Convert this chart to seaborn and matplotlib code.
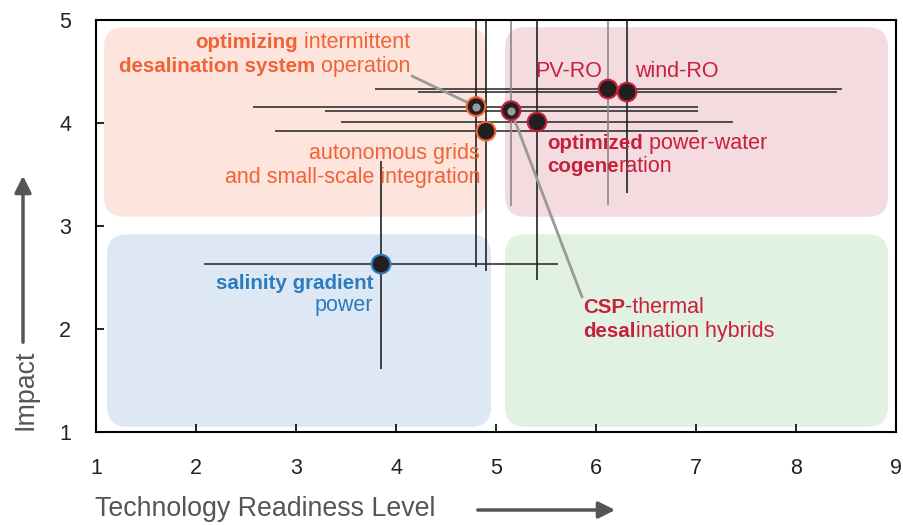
import numpy as np
import pandas as pd
import matplotlib
matplotlib.use('Agg')
import matplotlib.pyplot as plt
import seaborn as sns
from matplotlib.patches import FancyBboxPatch, FancyArrowPatch
from matplotlib.offsetbox import TextArea, HPacker, VPacker, AnnotationBbox

# technologies
tech = ['salinity gradient power',
        'optimizing intermittent desalination system operation',
        'autonomous grids and small-scale integration',
        'CSP-thermal desalination hybrids',
        'optimized power-water cogeneration',
        'PV-RO',
        'wind-RO']
trl = [3.85, 4.80, 4.90, 5.15, 5.41, 6.12, 6.31]
impact = [2.63, 4.16, 3.92, 4.12, 4.01, 4.33, 4.30]
trl_low = [2.08, 2.57, 2.79, 3.29, 3.45, 3.79, 4.22]
trl_high = [5.62, 7.02, 7.02, 7.02, 7.37, 8.46, 8.41]
impact_low = [1.61, 2.60, 2.56, 3.19, 2.48, 3.20, 3.32]
impact_high = [3.63, 5.0, 5.0, 5.0, 5.0, 5.0, 5.0]
group = ['blue', 'orange', 'orange', 'red', 'red', 'red', 'red']
highlight = [False, True, False, True, False, False, False]

# label lines, (text, weight) pieces
labels = [
    [[('salinity gradient', 'bold')], [('power', 'normal')]],
    [[('optimizing', 'bold'), (' intermittent', 'normal')],
     [('desalination system', 'bold'), (' operation', 'normal')]],
    [[('autonomous grids', 'normal')], [('and small-scale integration', 'normal')]],
    [[('CSP', 'bold'), ('-thermal', 'normal')],
     [('desal', 'bold'), ('ination hybrids', 'normal')]],
    [[('optimized', 'bold'), (' power-water', 'normal')],
     [('cogene', 'bold'), ('ration', 'normal')]],
    [[('PV-RO', 'normal')]],
    [[('wind-RO', 'normal')]],
]

df = pd.DataFrame({'tech': tech, 'trl': trl, 'impact': impact, 'group': group})

sns.set_theme(style='white')
plt.rcParams['font.family'] = ['Liberation Sans', 'DejaVu Sans']

edge = {'blue': '#2a7bc0', 'orange': '#f26234', 'red': '#c8203a'}
vcol = ['#222222', '#222222', '#222222', '#8a8a8a', '#222222', '#8a8a8a', '#222222']

fig = plt.figure(figsize=(9.04, 5.25), dpi=100)
ax = fig.add_axes([0.1062, 0.1771, 0.885, 0.7848])

# quadrant backgrounds
quads = [((1.08, 3.09), 3.83, 1.84, '#fde5de'),
         ((5.09, 3.09), 3.83, 1.84, '#f4dbdf'),
         ((1.11, 1.05), 3.84, 1.87, '#dde8f4'),
         ((5.09, 1.05), 3.83, 1.87, '#e1f2e3')]
for (x0, y0), w, h, c in quads:
    ax.add_patch(FancyBboxPatch((x0, y0), w, h, boxstyle='round,pad=0,rounding_size=0.2',
                                mutation_aspect=1.0, fc=c, ec='none', zorder=0))

ax.hlines(df['impact'], trl_low, trl_high, colors='#222222', lw=1.1, zorder=2)
ax.vlines(df['trl'], impact_low, impact_high, colors=vcol, lw=1.2, zorder=2)

# leader lines
ax.plot([4.16, trl[1]], [4.456, impact[1]], color='#9a9a9a', lw=2, zorder=3)
ax.plot([5.86, trl[3]], [2.31, impact[3]], color='#9a9a9a', lw=2, zorder=3)

sns.scatterplot(data=df, x='trl', y='impact', color='#231f20', s=180,
                edgecolor=[edge[g] for g in group], linewidth=1.5, zorder=4, ax=ax, legend=False)
hx = [t for t, h in zip(trl, highlight) if h]
hy = [v for v, h in zip(impact, highlight) if h]
ax.scatter(hx, hy, s=34, color='#9a9a9a', zorder=5, linewidths=0)


def rich_label(x, y, lines, color, align):
    rows = []
    for parts in lines:
        boxes = [TextArea(s, textprops=dict(color=color, fontweight=w,
                                            fontsize=14.8 if w == 'bold' else 15.5))
                 for s, w in parts]
        rows.append(HPacker(children=boxes, align='baseline', pad=0, sep=0))
    box = VPacker(children=rows, align=align, pad=0, sep=2)
    ab = AnnotationBbox(box, (x, y), xycoords='data',
                        box_alignment=(1 if align == 'right' else 0, 0.5),
                        frameon=False, pad=0, zorder=6)
    ax.add_artist(ab)


places = [(3.77, 2.33, 'right'), (4.14, 4.665, 'right'), (4.84, 3.59, 'right'),
          (5.87, 2.09, 'left'), (5.51, 3.69, 'left'), (6.06, 4.50, 'right'),
          (6.39, 4.50, 'left')]
for lines, (x, y, al), g in zip(labels, places, group):
    rich_label(x, y, lines, edge[g], al)

ax.set_xlim(1, 9)
ax.set_ylim(1, 5)
ax.set_xticks(range(1, 10))
ax.set_yticks(range(1, 6))
ax.set_xlabel('')
ax.set_ylabel('')
ax.tick_params(axis='both', direction='in', length=6, width=1.2, color='black',
               labelsize=15.5, labelcolor='#222222', bottom=True, left=True)
ax.tick_params(axis='x', pad=19)
ax.tick_params(axis='y', pad=18)
for sp in ax.spines.values():
    sp.set_color('black')
    sp.set_linewidth(1.5)

fig.text(0.105, 0.03, 'Technology Readiness Level', fontsize=19.3, color='#555555',
         ha='left', va='center')
fig.text(0.028, 0.257, 'Impact', fontsize=19.3, color='#555555', rotation=90,
         ha='center', va='center')
arrow = dict(arrowstyle='-|>', color='#555555', lw=2.5, mutation_scale=25)
fig.add_artist(FancyArrowPatch((475 / 904, 15 / 525), (618 / 904, 15 / 525),
                               transform=fig.transFigure, **arrow))
fig.add_artist(FancyArrowPatch((23 / 904, 180 / 525), (23 / 904, 352 / 525),
                               transform=fig.transFigure, **arrow))

fig.savefig('out.png', dpi=100)
